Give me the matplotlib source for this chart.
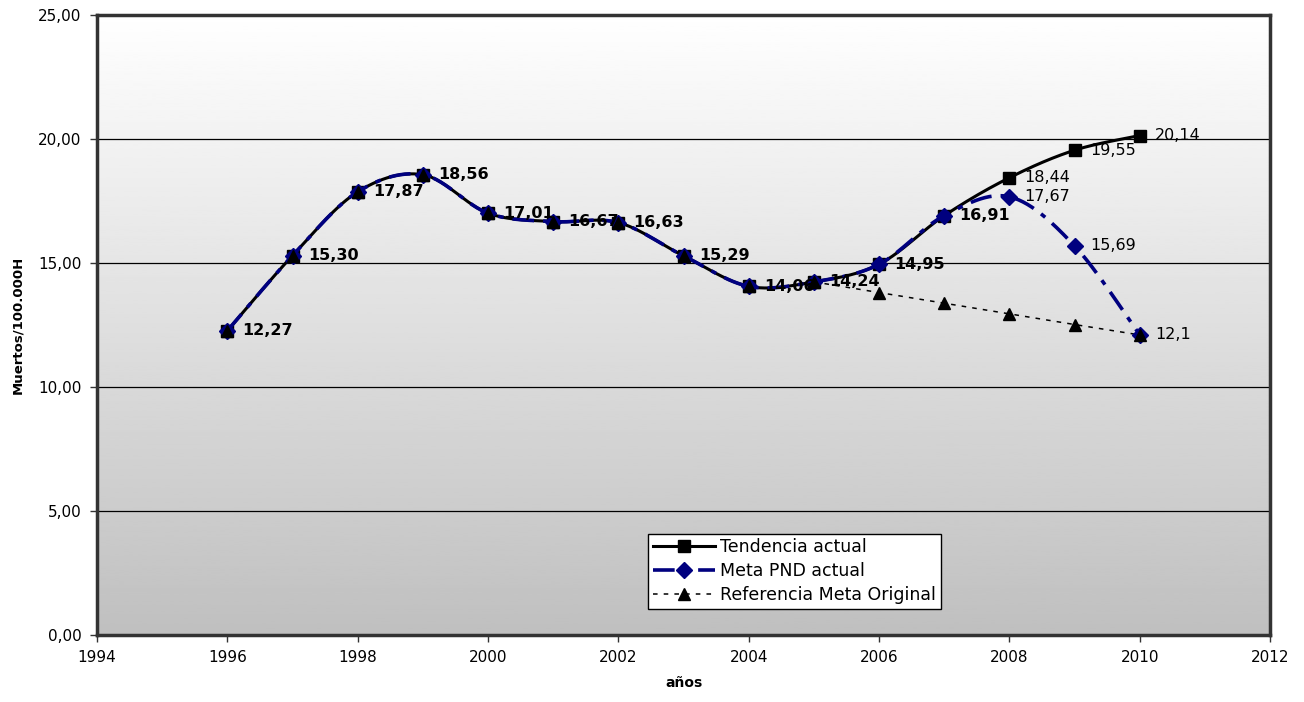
import numpy as np
import matplotlib.pyplot as plt
from matplotlib.lines import Line2D

years = list(range(1996, 2011))
tendencia = [12.27, 15.30, 17.87, 18.56, 17.01, 16.67, 16.63, 15.29, 14.06, 14.24,
             14.95, 16.91, 18.44, 19.55, 20.14]
meta_pnd = [12.27, 15.30, 17.87, 18.56, 17.01, 16.67, 16.63, 15.29, 14.06, 14.24,
            14.95, 16.91, 17.67, 15.69, 12.10]
ref_original = [12.27, 15.30, 17.87, 18.56, 17.01, 16.67, 16.63, 15.29, 14.06, 14.24,
                13.81, 13.38, 12.95, 12.52, 12.10]

tend_labels = ["12,27", "15,30", "17,87", "18,56", "17,01", "16,67", "16,63", "15,29",
               "14,06", "14,24", "14,95", "16,91", "18,44", "19,55", "20,14"]
meta_labels = {2008: "17,67", 2009: "15,69", 2010: "12,1"}

plt.rcParams['font.family'] = ["DejaVu Sans"]


def smooth(x, y, n=30):
    # excel-like smoothed line: bezier with catmull-rom control points
    x = np.asarray(x, float)
    y = np.asarray(y, float)
    px = np.concatenate([[x[0]], x, [x[-1]]])
    py = np.concatenate([[y[0]], y, [y[-1]]])
    xs, ys = [], []
    t = np.linspace(0, 1, n)
    for i in range(1, len(px) - 2):
        p0 = np.array([px[i], py[i]])
        p3 = np.array([px[i + 1], py[i + 1]])
        c1 = p0 + (p3 - np.array([px[i - 1], py[i - 1]])) / 6
        c2 = p3 - (np.array([px[i + 2], py[i + 2]]) - p0) / 6
        b = ((1 - t) ** 3)[:, None] * p0 + (3 * (1 - t) ** 2 * t)[:, None] * c1 \
            + (3 * (1 - t) * t ** 2)[:, None] * c2 + (t ** 3)[:, None] * p3
        xs.extend(b[:, 0])
        ys.extend(b[:, 1])
    return np.array(xs), np.array(ys)


fig = plt.figure(figsize=(13.04, 7.02), dpi=100)
ax = fig.add_axes([0.0744, 0.0954, 0.8996, 0.8832])

# gradient background
grad = np.linspace(0, 1, 256)[:, None]
ax.imshow(grad, extent=[1994, 2012, 0, 25], aspect='auto', cmap='gray',
          vmin=-3.0, vmax=1.0, origin='lower', zorder=0)

for yv in [5, 10, 15, 20]:
    ax.axhline(yv, color='black', lw=0.9, zorder=1)

navy = '#00007f'

# reference line: hidden under the other series up to 2005, dotted after
split = years.index(2005)
ax.plot(years[split:], ref_original[split:], color='black', lw=1.1, ls=(0, (3, 4)), zorder=2)

sx, sy = smooth(years, tendencia)
ax.plot(sx, sy, color='black', lw=2.2, zorder=3)
ax.plot(years, tendencia, ls='none', marker='s', ms=9, color='black', zorder=4)

mx, my = smooth(years, meta_pnd)
ax.plot(mx, my, color=navy, lw=2.6, dashes=(6, 2.5, 1.5, 2.5), zorder=5)
ax.plot(years, meta_pnd, ls='none', marker='D', ms=8, color=navy, zorder=6)

ax.plot(years, ref_original, ls='none', marker='^', ms=8, color='black', zorder=8)

for i, (yr, v) in enumerate(zip(years, tendencia)):
    bold = yr <= 2007
    ax.annotate(tend_labels[i], (yr, v), xytext=(11, 0), textcoords='offset points',
                va='center', ha='left', fontsize=11.5,
                fontweight='bold' if bold else 'normal', color='black', zorder=9)
for yr, lab in meta_labels.items():
    v = meta_pnd[years.index(yr)]
    ax.annotate(lab, (yr, v), xytext=(11, 0), textcoords='offset points',
                va='center', ha='left', fontsize=11.5, color='black', zorder=9)

ax.set_xlim(1994, 2012)
ax.set_ylim(0, 25)
ax.set_xticks(range(1994, 2013, 2))
ax.set_yticks(range(0, 26, 5))
ax.set_yticklabels([f"{v},00" for v in range(0, 26, 5)])
ax.tick_params(axis='both', direction='out', length=5, width=1, color='#333333',
               labelsize=11, pad=6)

for s in ax.spines.values():
    s.set_color('#333333')
    s.set_linewidth(2.5)
    s.set_zorder(10)

ax.set_xlabel("años", fontsize=10, fontweight='bold', labelpad=8)
ax.set_ylabel("Muertos/100.000H", fontsize=9.5, fontweight='bold', labelpad=10)

handles = [
    Line2D([], [], color='black', lw=2.2, marker='s', ms=9),
    Line2D([], [], color=navy, lw=2.6, dashes=(6, 2.5, 1.5, 2.5), marker='D', ms=8),
    Line2D([], [], color='black', lw=1.1, ls=(0, (3, 4)), marker='^', ms=8),
]
leg = ax.legend(handles, ["Tendencia actual", "Meta PND actual", "Referencia Meta Original"],
                loc='upper left', bbox_to_anchor=(0.47, 0.163), fontsize=12.5,
                frameon=True, fancybox=False, edgecolor='black', framealpha=1,
                handlelength=3.6, borderpad=0.25, labelspacing=0.35,
                handletextpad=0.3, borderaxespad=0)
leg.get_frame().set_linewidth(1.0)
leg.set_zorder(11)

fig.savefig("out.png", dpi=100)
